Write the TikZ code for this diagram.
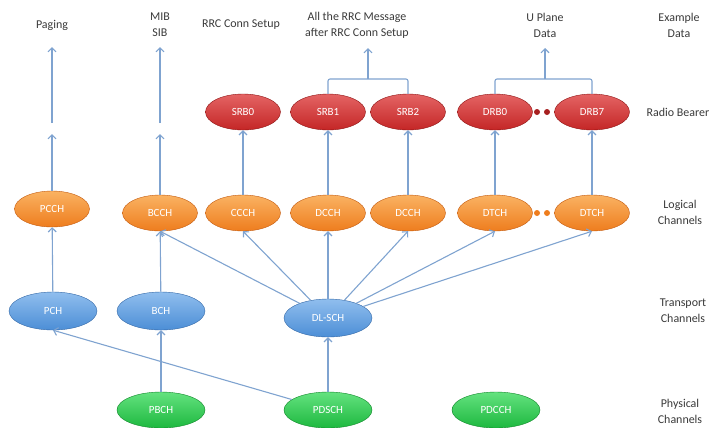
\documentclass[tikz,border=0pt]{standalone}
\usepackage{fontspec}
\setmainfont{Carlito}
\usetikzlibrary{shapes.geometric, arrows.meta, calc}
\definecolor{texto}{HTML}{3A3A3A}
\definecolor{linea}{HTML}{7FA3D0}
\definecolor{rojoclaro}{HTML}{E46464}
\definecolor{rojo}{HTML}{C42626}
\definecolor{rojoosc}{HTML}{8E1212}
\definecolor{naranjaclaro}{HTML}{FAB262}
\definecolor{naranja}{HTML}{EE7D1E}
\definecolor{naranjaosc}{HTML}{C35A0E}
\definecolor{azulclaro}{HTML}{90BEEE}
\definecolor{azul}{HTML}{4C8ED6}
\definecolor{azulosc}{HTML}{3267A6}
\definecolor{verdeclaro}{HTML}{64E27F}
\definecolor{verde}{HTML}{1DB83F}
\definecolor{verdeosc}{HTML}{11882A}
\tikzset{
  canal/.style={ellipse, inner sep=0pt, text=white, font=\fontsize{11}{13}\selectfont},
  portadora/.style={canal, minimum width=75bp, minimum height=36bp,
                    draw=rojoosc, top color=rojoclaro, bottom color=rojo},
  logico/.style={canal, minimum width=75bp, minimum height=36bp,
                 draw=naranjaosc, top color=naranjaclaro, bottom color=naranja},
  transporte/.style={canal, minimum width=88bp, minimum height=38bp,
                     draw=azulosc, top color=azulclaro, bottom color=azul},
  fisico/.style={canal, minimum width=88bp, minimum height=36bp,
                 draw=verdeosc, top color=verdeclaro, bottom color=verde},
  etiqueta/.style={text=texto, align=center, font=\fontsize{12}{16}\selectfont},
  flecha/.style={-{Straight Barb[length=4bp, width=8bp]}, color=linea, line width=1.1bp},
  llave/.style={color=linea, line width=1.1bp, rounded corners=2bp}
}

\begin{document}
\begin{tikzpicture}[x=1bp, y=-1bp]
  \useasboundingbox (0,0) rectangle (712,427);

  % datos de ejemplo
  \node (paging) [etiqueta] at (52,25) {Paging};
  \node (mibsib) [etiqueta] at (160,25) {MIB\\SIB};
  \node (rrcsetup) [etiqueta] at (241,25) {RRC Conn Setup};
  \node (rrcmsg) [etiqueta] at (357,25) {All the RRC Message\\after RRC Conn Setup};
  \node (uplane) [etiqueta] at (545,25) {U Plane\\Data};
  \node (ejemplo) [etiqueta] at (679,25) {Example\\Data};

  % radio bearers
  \node (srb0) [portadora] at (243,112) {SRB0};
  \node (srb1) [portadora] at (328,112) {SRB1};
  \node (srb2) [portadora] at (408,112) {SRB2};
  \node (drb0) [portadora] at (495,112) {DRB0};
  \node (drb7) [portadora] at (592,112) {DRB7};
  \fill [rojo!85!black] (537,112) circle (3bp) (547,112) circle (3bp);
  \node (rb) [etiqueta] at (678,112) {Radio Bearer};

  % canales logicos
  \node (pcch) [logico] at (52,209) {PCCH};
  \node (bcch) [logico] at (160,213) {BCCH};
  \node (ccch) [logico] at (243,213) {CCCH};
  \node (dcch) [logico] at (328,213) {DCCH};
  \node (dcchb) [logico] at (408,213) {DCCH};
  \node (dtch) [logico] at (495,213) {DTCH};
  \node (dtchb) [logico] at (592,213) {DTCH};
  \fill [naranja] (537,213) circle (3bp) (547,213) circle (3bp);
  \node (logicos) [etiqueta] at (680,212) {Logical\\Channels};

  % canales de transporte
  \node (pch) [transporte] at (53,311) {PCH};
  \node (bch) [transporte] at (161,311) {BCH};
  \node (dlsch) [transporte] at (328,318) {DL-SCH};
  \node (transp) [etiqueta] at (683,311) {Transport\\Channels};

  % canales fisicos
  \node (pbch) [fisico] at (161,410) {PBCH};
  \node (pdsch) [fisico] at (328,410) {PDSCH};
  \node (pdcch) [fisico] at (496,410) {PDCCH};
  \node (fisicos) [etiqueta] at (680,411) {Physical\\Channels};

  \coordinate (pagA) at (52,134); \coordinate (pagB) at (52,123); \coordinate (pagC) at (52,47);
  \coordinate (mibA) at (160,134); \coordinate (mibB) at (160,123); \coordinate (mibC) at (160,47);
  \coordinate (srbmid) at (368,79); \coordinate (srbtip) at (368,48);
  \coordinate (drbmid) at (545,79); \coordinate (drbtip) at (545,48);

  \draw [flecha] (pbch) -- (bch); \draw [flecha] (pdsch) -- (dlsch);
  \draw [flecha] (pdsch) -- (pch.south);
  \draw [flecha] (pch) -- (pcch); \draw [flecha] (bch) -- (bcch);
  \draw [flecha] (dlsch) -- (bcch.south); \draw [flecha] (dlsch) -- (ccch.south);
  \draw [flecha] (dlsch) -- (dcch); \draw [flecha] (dlsch) -- (dcchb.south);
  \draw [flecha] (dlsch) -- (dtch.south); \draw [flecha] (dlsch) -- (dtchb.south);
  \draw [flecha] (ccch) -- (srb0); \draw [flecha] (dcch) -- (srb1);
  \draw [flecha] (dcchb) -- (srb2); \draw [flecha] (dtch) -- (drb0);
  \draw [flecha] (dtchb) -- (drb7);
  \draw [flecha] (pcch) -- (pagA); \draw [flecha] (pagB) -- (pagC);
  \draw [flecha] (bcch) -- (mibA); \draw [flecha] (mibB) -- (mibC);

  % llaves sobre los bearers
  \draw [llave] (srb1.north) |- ($(srbmid)+(-5,0)$) -- (srbmid) -- ($(srbmid)+(5,0)$) -| (srb2.north);
  \draw [llave] (drb0.north) |- ($(drbmid)+(-5,0)$) -- (drbmid) -- ($(drbmid)+(5,0)$) -| (drb7.north);
  \draw [flecha] (srbmid) -- (srbtip); \draw [flecha] (drbmid) -- (drbtip);
\end{tikzpicture}
\end{document}
